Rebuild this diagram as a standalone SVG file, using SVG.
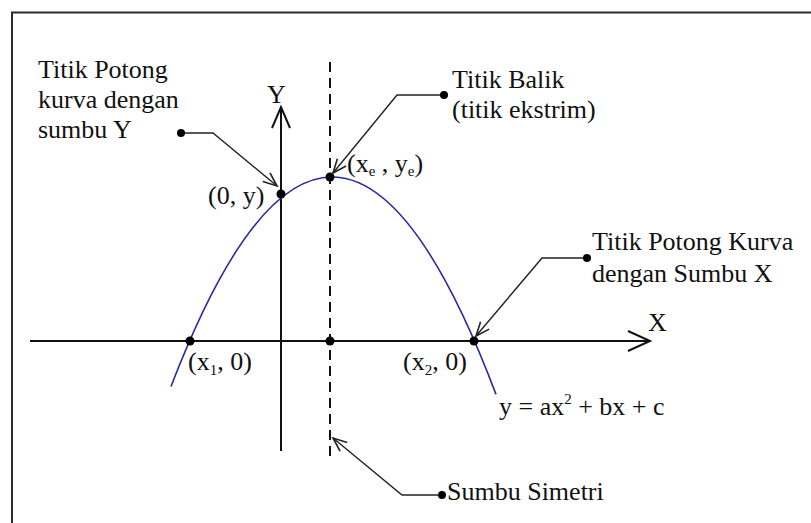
<svg xmlns="http://www.w3.org/2000/svg" width="811" height="523" viewBox="0 0 811 523">
<style>
text{font-family:"Liberation Serif","Times New Roman",serif;font-size:26px;fill:#111}
.sub{font-size:15px}
.ax{stroke:#111;stroke-width:2;fill:none}
.ld{stroke:#222;stroke-width:1.4;fill:none}
.dot{fill:#000}
</style>
<defs>
<marker id="arr" markerUnits="userSpaceOnUse" markerWidth="20" markerHeight="20" refX="0" refY="0" viewBox="-12 -8 14 16" orient="auto">
<path d="M-11,-4.5 L0,0 L-11,4.5" fill="none" stroke="#222" stroke-width="1.3"/>
</marker>
</defs>
<rect x="0" y="0" width="811" height="523" fill="#fff"/>
<rect x="12" y="12.5" width="830" height="540" fill="none" stroke="#2a2a2a" stroke-width="2"/>
<g id="axes">
<line class="ax" x1="30" y1="341" x2="650" y2="341"/>
<path class="ax" d="M628,331 L650,341 L628,351" stroke-width="1.5"/>
<line class="ax" x1="281" y1="451" x2="281" y2="107"/>
<path class="ax" d="M272,128 L281,107 L290,128" stroke-width="1.5"/>
<text x="648" y="331">X</text>
<text x="267" y="103">Y</text>
</g>
<g id="symmetry-axis">
<line x1="330" y1="62" x2="330" y2="460" stroke="#111" stroke-width="2" stroke-dasharray="10 6"/>
</g>
<g id="curve">
<path d="M171,386.5 Q333.5,-36.3 496,394.4" fill="none" stroke="#2a2aa0" stroke-width="1.6"/>
<text x="499" y="415">y = ax<tspan dy="-11" class="sub">2</tspan><tspan dy="11"> + bx + c</tspan></text>
</g>
<g id="points">
<circle class="dot" cx="281" cy="194" r="4.5"/>
<circle class="dot" cx="330" cy="177" r="4.5"/>
<circle class="dot" cx="190" cy="341" r="4.5"/>
<circle class="dot" cx="330" cy="341" r="4.5"/>
<circle class="dot" cx="474" cy="341" r="4.5"/>
<text x="208" y="204">(0, y)</text>
<text x="347" y="172">(x<tspan class="sub" dy="4">e</tspan><tspan dy="-4"> , y</tspan><tspan class="sub" dy="4">e</tspan><tspan dy="-4">)</tspan></text>
<text x="188" y="370">(x<tspan class="sub" dy="5">1</tspan><tspan dy="-5">, 0)</tspan></text>
<text x="403" y="370">(x<tspan class="sub" dy="5">2</tspan><tspan dy="-5">, 0)</tspan></text>
</g>
<g id="connectors">
<path class="ld" d="M181,133 L213,133 L277,186" marker-end="url(#arr)"/>
<path class="ld" d="M444,95 L397,95 L333,173" marker-end="url(#arr)"/>
<path class="ld" d="M587,258 L542,258 L476,336" marker-end="url(#arr)"/>
<path class="ld" d="M442,495 L402,495 L333,438" marker-end="url(#arr)"/>
</g>
<g id="label-y-intercept">
<circle class="dot" cx="181" cy="133" r="4"/>
<text x="38" y="78">Titik Potong</text>
<text x="38" y="108">kurva dengan</text>
<text x="38" y="138">sumbu Y</text>
</g>
<g id="label-vertex">
<circle class="dot" cx="444" cy="95" r="4"/>
<text x="452" y="88">Titik Balik</text>
<text x="452" y="118">(titik ekstrim)</text>
</g>
<g id="label-x-intercept">
<circle class="dot" cx="587" cy="258" r="4"/>
<text x="592" y="250">Titik Potong Kurva</text>
<text x="592" y="282">dengan Sumbu X</text>
</g>
<g id="label-symmetry">
<circle class="dot" cx="442" cy="495" r="4"/>
<text x="447" y="500">Sumbu Simetri</text>
</g>
</svg>
